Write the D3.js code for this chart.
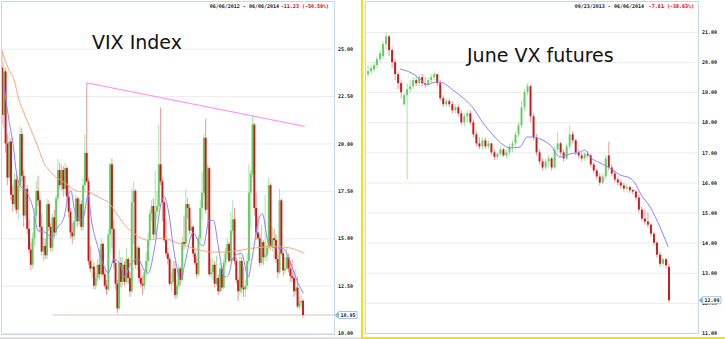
<!DOCTYPE html>
<html>
<head>
<meta charset="utf-8">
<script src="https://cdnjs.cloudflare.com/ajax/libs/d3/7.8.5/d3.min.js"></script>
<style>
  body { margin: 0; background: #fff; }
  svg { display: block; }
  .tick text { font-family: "DejaVu Sans Mono", monospace; font-weight: bold; font-size: 5px; fill: #222; }
  .small { font-family: "DejaVu Sans Mono", monospace; font-weight: bold; font-size: 5px; }
  .title { font-family: "DejaVu Sans", sans-serif; font-size: 19px; fill: #111; }
</style>
</head>
<body>
<div id="chart"></div>
<script>
// VIX index, each candle ~3 trading days: [open, high, low, close]
var vixCandles = [
  [24.0,24.9,21.0,21.5],[21.5,24.3,20.8,23.8],[23.8,24.0,19.5,20.0],[20.0,20.5,17.8,18.2],[18.2,20.6,18.0,20.1],[20.1,20.3,17.0,17.3],[17.3,17.8,16.4,16.8],
  [16.8,18.5,16.6,18.1],[18.1,18.4,16.3,16.5],[16.5,18.0,16.0,17.8],[17.8,20.9,17.5,20.5],[20.5,20.8,18.0,18.3],[18.3,18.6,15.6,16.2],[16.2,18.3,16.0,17.6],
  [17.6,17.8,15.2,15.5],[15.5,16.0,14.2,14.4],[14.4,14.8,13.3,13.6],[13.6,15.3,13.4,15.0],[15.0,16.6,14.6,16.2],[16.2,18.0,15.9,17.5],[17.5,18.3,16.7,17.0],
  [17.0,17.2,15.3,15.6],[15.6,16.3,14.1,14.3],[14.3,15.0,13.8,14.6],[14.6,15.0,13.9,14.1],[14.1,17.1,13.9,16.8],[16.8,17.0,15.4,15.6],[15.6,15.8,14.3,14.5],
  [14.5,16.3,14.3,16.1],[16.1,16.5,15.0,15.3],[15.3,17.3,15.1,17.1],[17.1,19.2,16.9,18.6],[18.6,19.0,17.6,17.8],[17.8,18.9,17.5,18.6],[18.6,18.8,17.2,17.6],
  [17.6,19.0,17.3,18.7],[18.7,18.8,16.9,17.2],[17.2,17.8,16.1,16.4],[16.4,16.6,15.0,15.3],[15.3,15.8,14.7,15.1],[15.1,16.4,14.9,15.9],[15.9,17.3,15.6,17.1],
  [17.1,17.2,15.6,15.9],[15.9,17.1,15.7,16.8],[16.8,17.0,15.4,15.6],[15.6,18.2,15.4,17.8],[17.8,20.5,17.5,19.5],[19.5,23.2,17.9,18.0],[18.0,18.2,13.6,13.8],
  [13.8,14.6,13.2,13.4],[13.4,13.9,12.9,13.5],[13.5,13.7,12.3,12.5],[12.5,13.2,12.3,12.9],[12.9,13.9,12.7,13.6],[13.6,14.4,12.8,13.1],[13.1,15.0,12.9,14.7],
  [14.7,14.8,13.0,13.1],[13.1,13.3,12.4,12.5],[12.5,12.8,12.0,12.3],[12.3,15.5,12.2,15.2],[15.2,19.0,14.2,18.9],[18.9,19.2,14.5,15.5],[15.5,16.0,13.4,13.7],
  [13.7,13.9,12.3,12.6],[12.6,12.8,11.05,11.3],[11.3,14.4,11.2,13.7],[13.7,14.0,12.4,12.7],[12.7,14.0,12.5,13.6],[13.6,13.8,12.5,12.7],[12.7,14.5,12.6,13.9],
  [13.9,14.0,12.6,12.9],[12.9,13.2,11.9,12.2],[12.2,17.6,12.1,16.9],[16.9,18.0,14.7,17.5],[17.5,17.6,13.4,13.6],[13.6,14.6,13.3,14.5],[14.5,14.6,12.7,12.9],
  [12.9,13.4,12.4,12.6],[12.6,13.0,12.0,12.5],[12.5,13.4,12.3,13.2],[13.2,14.3,13.0,13.8],[13.8,15.3,13.5,14.9],[14.9,16.5,14.6,16.3],[16.3,17.0,15.9,16.7],
  [16.7,17.1,15.0,15.2],[15.2,18.6,15.0,16.4],[16.4,17.5,16.0,16.7],[16.7,21.0,16.5,18.9],[18.9,21.9,17.8,18.0],[18.0,18.2,15.9,16.9],[16.9,17.0,14.8,14.9],
  [14.9,16.0,14.0,14.2],[14.2,14.5,13.6,13.9],[13.9,14.0,12.5,12.6],[12.6,13.2,12.2,12.7],[12.7,13.8,12.5,13.4],[13.4,13.8,11.8,12.0],[12.0,12.8,11.8,12.5],
  [12.5,13.6,12.3,13.4],[13.4,13.5,12.5,12.8],[12.8,15.1,12.7,14.8],[14.8,16.2,14.4,14.7],[14.7,17.6,14.5,16.8],[16.8,17.1,16.0,16.6],[16.6,16.8,15.2,15.4],
  [15.4,16.0,15.0,15.6],[15.6,15.7,14.0,14.2],[14.2,14.5,13.6,13.7],[13.7,14.0,12.9,13.1],[13.1,15.2,13.0,15.0],[15.0,17.0,14.8,16.6],[16.6,18.5,16.0,17.4],
  [17.4,20.5,17.2,20.3],[20.3,21.3,16.3,16.5],[16.5,18.9,15.5,18.7],[18.7,18.8,13.0,13.1],[13.1,13.9,12.9,13.2],[13.2,14.0,12.8,13.6],[13.6,13.8,12.4,12.6],
  [12.6,14.1,12.5,12.9],[12.9,13.1,12.0,12.2],[12.2,13.7,12.1,13.4],[13.4,13.5,12.2,12.4],[12.4,13.9,12.3,13.7],[13.7,14.5,13.5,14.2],[14.2,15.0,13.9,14.7],
  [14.7,14.8,13.7,13.8],[13.8,16.4,13.7,15.4],[15.4,17.0,15.2,16.0],[16.0,16.6,13.6,13.8],[13.8,14.0,12.6,12.8],[12.8,12.9,11.7,12.2],[12.2,14.4,12.0,13.8],
  [13.8,14.0,12.1,12.4],[12.4,13.5,11.9,12.3],[12.3,12.8,11.9,12.5],[12.5,14.2,12.3,13.8],[13.8,18.9,13.6,17.4],[17.4,18.6,15.5,18.4],[18.4,21.5,18.2,21.0],
  [21.0,21.1,16.2,16.6],[16.6,17.4,14.9,15.3],[15.3,16.2,14.9,15.0],[15.0,15.2,13.5,13.7],[13.7,15.7,13.6,14.8],[14.8,14.9,13.6,14.0],[14.0,17.3,13.8,14.1],
  [14.1,14.8,13.8,14.5],[14.5,18.2,14.3,17.8],[17.8,17.9,14.4,14.6],[14.6,15.6,14.3,15.0],[15.0,15.5,13.9,14.9],[14.9,15.2,13.7,13.9],[13.9,14.2,12.9,13.2],
  [13.2,17.6,13.1,17.0],[17.0,17.1,14.1,14.2],[14.2,14.3,13.0,13.3],[13.3,14.0,13.1,13.4],[13.4,14.5,13.3,14.0],[14.0,14.2,13.2,13.4],[13.4,13.8,12.7,13.0],
  [13.0,13.9,12.7,12.9],[12.9,13.3,11.9,12.2],[12.2,13.4,12.0,12.4],[12.4,13.0,11.3,11.4],[11.4,11.9,11.2,11.6],[11.6,12.0,11.3,11.7],[11.7,11.8,10.8,10.95]
];
// short moving average (blue), [candle index, value]
var vixFast = [[1,23.1],[2.2,22.3],[3.9,21.2],[6.1,20.0],[7.8,18.6],[10.6,17.7],[13.3,17.5],[17.2,16.6],[20,15.4],[24.4,15.3],[27.2,15.05],
  [31.1,15.6],[34.4,16.1],[37.2,17.4],[38.3,17.5],[40,16.6],[42.8,15.95],[45,16.05],[47.8,17.3],[49.4,16.1],[53.3,14.5],[56.7,13.5],
  [58.9,13.15],[62.2,13.9],[66.1,13.5],[67.8,12.95],[71.7,13.7],[75.6,13.9],[78.9,13.3],[81.1,13.15],[84.4,14.35],[88.3,16.85],[90,17.2],
  [92.2,16.5],[95.6,14.2],[99.4,12.8],[101.1,13.5],[106.1,15.3],[109.4,14.75],[111.7,14.6],[115,15.95],[117.2,15.95],[120.6,14.2],
  [123.3,12.95],[125.6,13.05],[128.3,14.0],[132.8,14.2],[136.7,12.95],[138.3,13.7],[142.8,16.1],[144.4,16.3],[147.8,14.75],[151.1,14.5],
  [156.1,14.45],[159.4,13.85],[164.4,12.6],[167.2,12.1]];
// long moving average (orange)
var vixSlow = [[0,24.9],[3.3,24.0],[6.7,23.35],[9.4,22.3],[12.2,21.6],[16.1,20.7],[20,19.8],[23.3,18.95],[25.6,18.65],[28.9,18.3],
  [32.8,18.05],[36.7,17.8],[40,17.55],[43.9,17.45],[47.8,17.45],[51.1,17.3],[55,17.1],[58.9,16.9],[62.2,16.5],[66.1,15.95],[70,15.5],
  [73.3,15.25],[77.2,15.0],[81.1,14.9],[84.4,14.95],[88.3,15.0],[92.2,14.95],[95.6,14.8],[99.4,14.7],[105,14.5],[110.6,14.35],
  [116.1,14.27],[121.7,14.27],[127.2,14.3],[132.8,14.37],[138.3,14.47],[143.9,14.52],[149.4,14.58],[155,14.55],[160.6,14.47],[166.1,14.27],[167.8,14.2]];
var vixTrend = [[47,23.2],[168,20.9]];
var vixLevel = [28, 10.95];
var vixTicks = [10, 12.5, 15, 17.5, 20, 22.5, 25];

// June VX futures, each candle ~1.75 trading days
var vxCandles = [
  [19.6,19.9,19.5,19.7],[19.7,19.9,19.6,19.8],[19.75,20.0,19.65,19.9],[19.9,20.2,19.8,20.1],[20.1,20.4,20.0,20.3],[20.2,20.7,20.1,20.6],[20.6,21.0,20.4,20.85],
  [20.85,20.9,20.2,20.4],[20.4,20.5,19.8,20.0],[20.0,20.1,19.4,19.6],[19.6,19.7,19.1,19.3],[19.3,19.4,18.8,19.0],[18.6,19.0,18.55,18.9],[18.9,19.3,16.1,19.1],
  [19.1,19.4,19.0,19.2],[19.2,19.5,19.1,19.4],[19.4,19.5,19.2,19.3],[19.3,19.6,19.2,19.5],[19.5,19.6,19.2,19.3],[19.3,19.5,19.15,19.25],[19.25,19.5,19.2,19.4],
  [19.4,19.6,19.3,19.5],[19.5,19.7,19.4,19.6],[19.6,19.6,19.2,19.3],[19.3,19.4,18.7,18.8],[18.8,18.9,18.5,18.6],[18.6,18.8,18.5,18.7],[18.7,18.8,18.5,18.6],
  [18.6,18.7,18.3,18.4],[18.4,18.6,18.3,18.5],[18.5,18.6,18.2,18.3],[18.3,18.4,17.9,18.0],[18.0,18.3,17.85,18.2],[18.2,18.4,18.0,18.3],[18.3,18.4,17.9,18.0],
  [18.0,18.1,17.5,17.6],[17.6,17.7,17.2,17.3],[17.3,17.5,17.1,17.2],[17.2,17.5,17.1,17.4],[17.4,17.5,17.1,17.2],[17.2,17.4,17.1,17.3],[17.3,17.3,16.9,17.0],
  [17.0,17.1,16.75,16.85],[16.85,17.0,16.75,16.95],[16.95,17.2,16.9,17.1],[17.1,17.15,16.85,16.9],[16.9,17.1,16.8,17.0],[17.0,17.3,16.9,17.2],[17.2,17.4,17.0,17.3],
  [17.3,17.7,17.2,17.6],[17.6,18.0,17.5,17.9],[17.9,18.7,17.8,18.5],[18.5,19.1,18.4,19.0],[19.0,19.3,18.9,19.2],[19.2,19.25,18.0,18.2],[18.2,18.3,17.4,17.5],
  [17.5,17.6,16.9,17.0],[17.0,17.1,16.6,16.7],[16.7,16.8,16.4,16.5],[16.5,16.8,16.4,16.7],[16.7,16.9,16.5,16.8],[16.8,16.85,16.4,16.5],[16.5,17.2,16.45,17.1],
  [17.1,17.7,17.0,17.3],[17.3,17.35,16.9,17.0],[17.0,17.1,16.7,16.8],[16.8,17.3,16.75,17.2],[17.2,17.9,17.1,17.6],[17.6,17.7,17.3,17.4],[17.4,17.45,16.9,17.0],
  [17.0,17.1,16.8,16.9],[16.9,17.0,16.7,16.8],[16.8,17.0,16.7,16.95],[16.95,17.05,16.8,16.9],[16.9,16.95,16.5,16.6],[16.6,16.7,16.3,16.4],[16.4,16.45,16.1,16.2],
  [16.2,16.3,15.9,16.0],[16.0,16.3,15.95,16.2],[16.2,16.9,16.1,16.8],[16.9,17.35,16.4,16.5],[16.5,16.6,16.2,16.3],[16.3,16.4,16.0,16.1],[16.1,16.2,15.9,16.0],
  [16.0,16.1,15.8,15.9],[15.9,16.0,15.7,15.8],[15.8,15.95,15.7,15.85],[15.85,15.9,15.65,15.75],[15.75,15.8,15.6,15.7],[15.7,15.75,15.4,15.5],[15.5,15.6,15.0,15.1],
  [15.1,15.2,14.7,14.8],[14.8,15.1,14.6,14.7],[14.7,15.0,14.5,14.6],[14.6,14.65,14.2,14.3],[14.3,14.35,13.9,14.0],[14.0,14.05,13.5,13.6],[13.6,13.7,13.2,13.3],
  [13.3,13.5,13.2,13.45],[13.45,13.5,13.15,13.25],[13.2,13.3,12.0,12.09]
];
var vxFast = [[10.6,19.77],[15.6,19.57],[18.3,19.34],[19.6,19.24],[21.3,19.31],[23.3,19.34],[24.9,19.31],[28.2,19.07],[31.6,18.81],
  [34.9,18.48],[38.2,17.98],[41.5,17.58],[44.9,17.25],[47.2,17.15],[50.5,17.18],[52.8,17.51],[54.8,17.51],[57.1,17.45],[60.5,17.25],
  [63.8,16.85],[67.1,16.95],[70.4,17.01],[72.1,17.08],[73.8,16.85],[77.1,16.65],[80.4,16.48],[83.7,16.25],[87,16.15],[88.7,15.98],
  [90.4,15.65],[93.7,15.19],[97,14.52],[99.7,13.86]];
var vxTicks = [11, 12, 13, 14, 15, 16, 17, 18, 19, 20, 21];

(function() {
  var svg = d3.select("#chart")
        .append("svg")
        .attr("width", 725)
        .attr("height", 339);

  var upBody = "#52c852", upWick = "#a6e6a6",
      downBody = "#c20000", downWick = "#e69a9a",
      frameColor = "#c3d8e8";

  function drawPanel(p) {
    var g = svg.append("g");

    var x = d3.scaleLinear().domain([0, p.candles.length - 1]).range([p.x0, p.x1]);
    var y = d3.scaleLinear().domain(p.domain).range(p.range);

    // grid lines
    g.append("g")
      .attr("transform", "translate(" + p.left + ",0)")
      .call(d3.axisRight(y).tickValues(p.ticks).tickSize(p.right - p.left).tickFormat(""))
      .call(function(a) { a.select(".domain").remove(); })
      .selectAll("line").attr("stroke", "#ececec");

    var clipId = "clip" + p.left;
    g.append("clipPath").attr("id", clipId)
      .append("rect").attr("x", p.left).attr("y", p.top).attr("width", p.right - p.left).attr("height", p.bottom - p.top);

    var plot = g.append("g").attr("clip-path", "url(#" + clipId + ")");

    if (p.level) {
      plot.append("line")
        .attr("x1", x(p.level[0])).attr("x2", p.right)
        .attr("y1", y(p.level[1])).attr("y2", y(p.level[1]))
        .attr("stroke", "#cdc9b8").attr("stroke-width", 1);
    }

    // wicks
    plot.selectAll("line.wick")
      .data(p.candles)
      .enter().append("line")
      .attr("class", "wick")
      .attr("x1", function(d, i) { return x(i) }).attr("x2", function(d, i) { return x(i) })
      .attr("y1", function(d) { return y(d[1]) }).attr("y2", function(d) { return y(d[2]) })
      .attr("stroke", function(d) { return d[3] >= d[0] ? upWick : downWick })
      .attr("stroke-width", p.wick);

    // bodies
    plot.selectAll("rect.body")
      .data(p.candles)
      .enter().append("rect")
      .attr("class", "body")
      .attr("x", function(d, i) { return x(i) - p.body / 2 })
      .attr("width", p.body)
      .attr("y", function(d) { return y(Math.max(d[0], d[3])) })
      .attr("height", function(d) { return Math.max(1, Math.abs(y(d[0]) - y(d[3]))) })
      .attr("fill", function(d) { return d[3] >= d[0] ? upBody : downBody })
      .attr("opacity", 0.85);

    var line = d3.line()
      .x(function(d) { return x(d[0]) })
      .y(function(d) { return y(d[1]) })
      .curve(d3.curveMonotoneX);

    p.lines.forEach(function(l) {
      plot.append("path")
        .datum(l.data)
        .attr("d", l.straight ? d3.line().x(function(d) { return x(d[0]) }).y(function(d) { return y(d[1]) }) : line)
        .attr("fill", "none")
        .attr("stroke", l.color)
        .attr("stroke-width", 1);
    });

    // frame
    g.append("rect")
      .attr("x", p.left + 0.5).attr("y", p.top + 0.5)
      .attr("width", p.right - p.left).attr("height", p.bottom - p.top)
      .attr("fill", "none").attr("stroke", frameColor);

    // price axis on the right
    g.append("g")
      .attr("transform", "translate(" + p.right + ",0)")
      .call(d3.axisRight(y).tickValues(p.ticks).tickSize(0).tickPadding(4).tickFormat(d3.format(".2f")))
      .call(function(a) { a.select(".domain").remove(); });

    // last value marker
    var ly = y(p.last);
    var mk = g.append("g").attr("transform", "translate(" + (p.right + 1) + "," + ly + ")");
    mk.append("path")
      .attr("d", "M0,0 L4,-3.5 L22,-3.5 L22,3.5 L4,3.5 Z")
      .attr("fill", "#fff").attr("stroke", "#8fb4cf").attr("stroke-width", 0.8);
    mk.append("path").attr("d", "M0,0 L4,-3 L4,3 Z").attr("fill", "#8fb4cf");
    mk.append("text").attr("class", "small")
      .attr("x", 5.5).attr("y", 1.8).attr("fill", "#222")
      .text(d3.format(".2f")(p.last));

    // header
    svg.append("text").attr("class", "small")
      .attr("x", p.headerX).attr("y", 8).attr("text-anchor", "end").attr("fill", "#d40000")
      .text(p.change);
    svg.append("text").attr("class", "small")
      .attr("x", p.headerX - 50).attr("y", 8).attr("text-anchor", "end").attr("fill", "#222")
      .text(p.period);

    svg.append("text").attr("class", "title")
      .attr("x", p.titleX).attr("y", p.titleY)
      .text(p.title);
  }

  drawPanel({
    candles: vixCandles, domain: [10, 25], range: [333, 48.7], ticks: vixTicks,
    left: 1, right: 334, top: 1, bottom: 334, x0: 2, x1: 303, body: 2, wick: 1,
    lines: [
      { data: vixSlow, color: "#f5a878" },
      { data: vixFast, color: "#8a84ff" },
      { data: vixTrend, color: "#ff88ff", straight: true }
    ],
    level: vixLevel, last: 10.95,
    headerX: 329, period: "06/06/2012 - 06/06/2014", change: "-11.23 (-50.59%)",
    title: "VIX Index", titleX: 92, titleY: 49
  });

  drawPanel({
    candles: vxCandles, domain: [11, 21], range: [333, 32], ticks: vxTicks,
    left: 365, right: 698, top: 1, bottom: 333, x0: 368, x1: 669, body: 2, wick: 1,
    lines: [ { data: vxFast, color: "#8a84ff" } ],
    last: 12.09,
    headerX: 694, period: "09/23/2013 - 06/06/2014", change: "-7.61 (-38.63%)",
    title: "June VX futures", titleX: 467, titleY: 62
  });

  // panel separators
  svg.append("line").attr("x1", 0).attr("x2", 361).attr("y1", 338).attr("y2", 338).attr("stroke", "#c4c4c4");
  svg.append("line").attr("x1", 362).attr("x2", 362).attr("y1", 0).attr("y2", 339).attr("stroke", "#f0e400").attr("stroke-width", 2);
  svg.append("line").attr("x1", 362).attr("x2", 725).attr("y1", 338).attr("y2", 338).attr("stroke", "#f0e400").attr("stroke-width", 2);
})();
</script>
</body>
</html>
